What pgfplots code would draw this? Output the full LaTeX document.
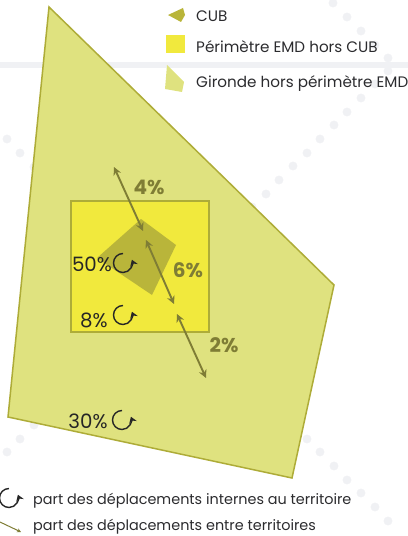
\documentclass[border=0pt]{standalone}
\usepackage{fontspec}
\setmainfont{Poppins}
\usepackage{pgfplots}
\pgfplotsset{compat=1.18}
\usetikzlibrary{arrows.meta}

\definecolor{gironde}{HTML}{DFE27F}
\definecolor{girondeedge}{HTML}{AEAC38}
\definecolor{emd}{HTML}{F1E93D}
\definecolor{cub}{HTML}{B9B53A}
\definecolor{flux}{HTML}{7F7D35}
\definecolor{fond}{HTML}{F0F1F4}
\definecolor{texte}{HTML}{2B2B2E}

\tikzset{
    lab/.style={font=\fontsize{15.2bp}{17bp}\selectfont, text=texte, anchor=west, inner sep=0pt},
    lab2/.style={font=\fontsize{14.4bp}{17bp}\selectfont, text=texte, anchor=west, inner sep=0pt},
    pct/.style={font=\fontsize{19.8bp}{22bp}\selectfont, text=black!85, inner sep=0pt},
    flx/.style={font=\bfseries\fontsize{20bp}{22bp}\selectfont, text=flux, inner sep=0pt},
    arr/.style={flux, line width=1.9bp, {Stealth[length=8bp,width=8bp]}-{Stealth[length=8bp,width=8bp]}},
}

% fleche circulaire (deplacements internes)
\newcommand{\turn}[2]{\draw[black!85,line width=1.4bp,-{Stealth[length=6bp,width=8bp]}]
  ([shift={(90:9.5bp)}]axis cs:#1,#2) arc[start angle=90,end angle=380,radius=9.5bp];}

\begin{document}
\begin{tikzpicture}
\begin{axis}[
    hide axis, scale only axis,
    width=408bp, height=536bp,
    xmin=0, xmax=408, ymin=0, ymax=536,
    y dir=reverse,
    clip=true,
    clip marker paths=true,
]
% fond
\addplot[fond, line width=6.5bp, forget plot] coordinates {(0,65) (408,65)};
\addplot[only marks, color=fond, mark=*, mark size=4.2bp, mark options={solid, fill=fond, draw=fond}, forget plot] coordinates {
  (333,3) (347,17) (361,31) (375,45) (388,58) (388,71) (375,84) (361,98) (347,112)
  (334,125) (320,139) (307,153) (293,166) (279,180) (266,194) (252,207)
  (7,139) (20,153) (34,167)
  (7,452) (20,439) (34,425)
  (307,439) (320,452) (334,466) (347,480) (361,493) (375,507) (388,521)
};

% territoires
\addplot[fill=gironde, draw=girondeedge, line width=1.5bp] coordinates {(49,7) (334,285) (292,478) (8,417)} -- cycle;
\addplot[fill=emd, draw=girondeedge, line width=1.8bp] coordinates {(71,201) (209,201) (209,332) (71,332)} -- cycle;
\addplot[fill=cub, draw=none] coordinates {(141,219) (176,245) (152,295) (97,258)} -- cycle;

% echanges
\addplot[arr] coordinates {(114,167) (143,231)};
\addplot[arr] coordinates {(146,240) (174,304)};
\addplot[arr] coordinates {(177,314) (206,378)};
\node[flx] at (axis cs:149,187) {4\%};
\node[flx] at (axis cs:188,270) {6\%};
\node[flx] at (axis cs:224,345) {2\%};

% internes
\node[pct] at (axis cs:92,264) {50\%};
\node[pct] at (axis cs:94,320) {8\%};
\node[pct] at (axis cs:88,421) {30\%};
\turn{123}{263}
\turn{123}{315}
\turn{122}{420}

% legende
\addplot[fill=cub, draw=none] coordinates {(183,8) (185,15) (181,22) (168,15)} -- cycle;
\addplot[fill=emd, draw=none] coordinates {(166,35) (185,35) (185,53) (166,53)} -- cycle;
\addplot[fill=gironde, draw=none] coordinates {(167,65) (184,82) (182,92) (165,89)} -- cycle;
\node[lab] at (axis cs:196,16) {CUB};
\node[lab] at (axis cs:196,47) {Périmètre EMD hors CUB};
\node[lab] at (axis cs:196,84) {Gironde hors périmètre EMD};
\turn{9}{498}
\addplot[flux, line width=1bp, -{Stealth[length=4bp,width=4bp]}] coordinates {(0,522) (21,532)};
\node[lab2] at (axis cs:33,501) {part des déplacements internes au territoire};
\node[lab2] at (axis cs:33,527) {part des déplacements entre territoires};
\end{axis}
\pgfresetboundingbox
\useasboundingbox (current axis.south west) rectangle (current axis.north east);
\end{tikzpicture}
\end{document}
